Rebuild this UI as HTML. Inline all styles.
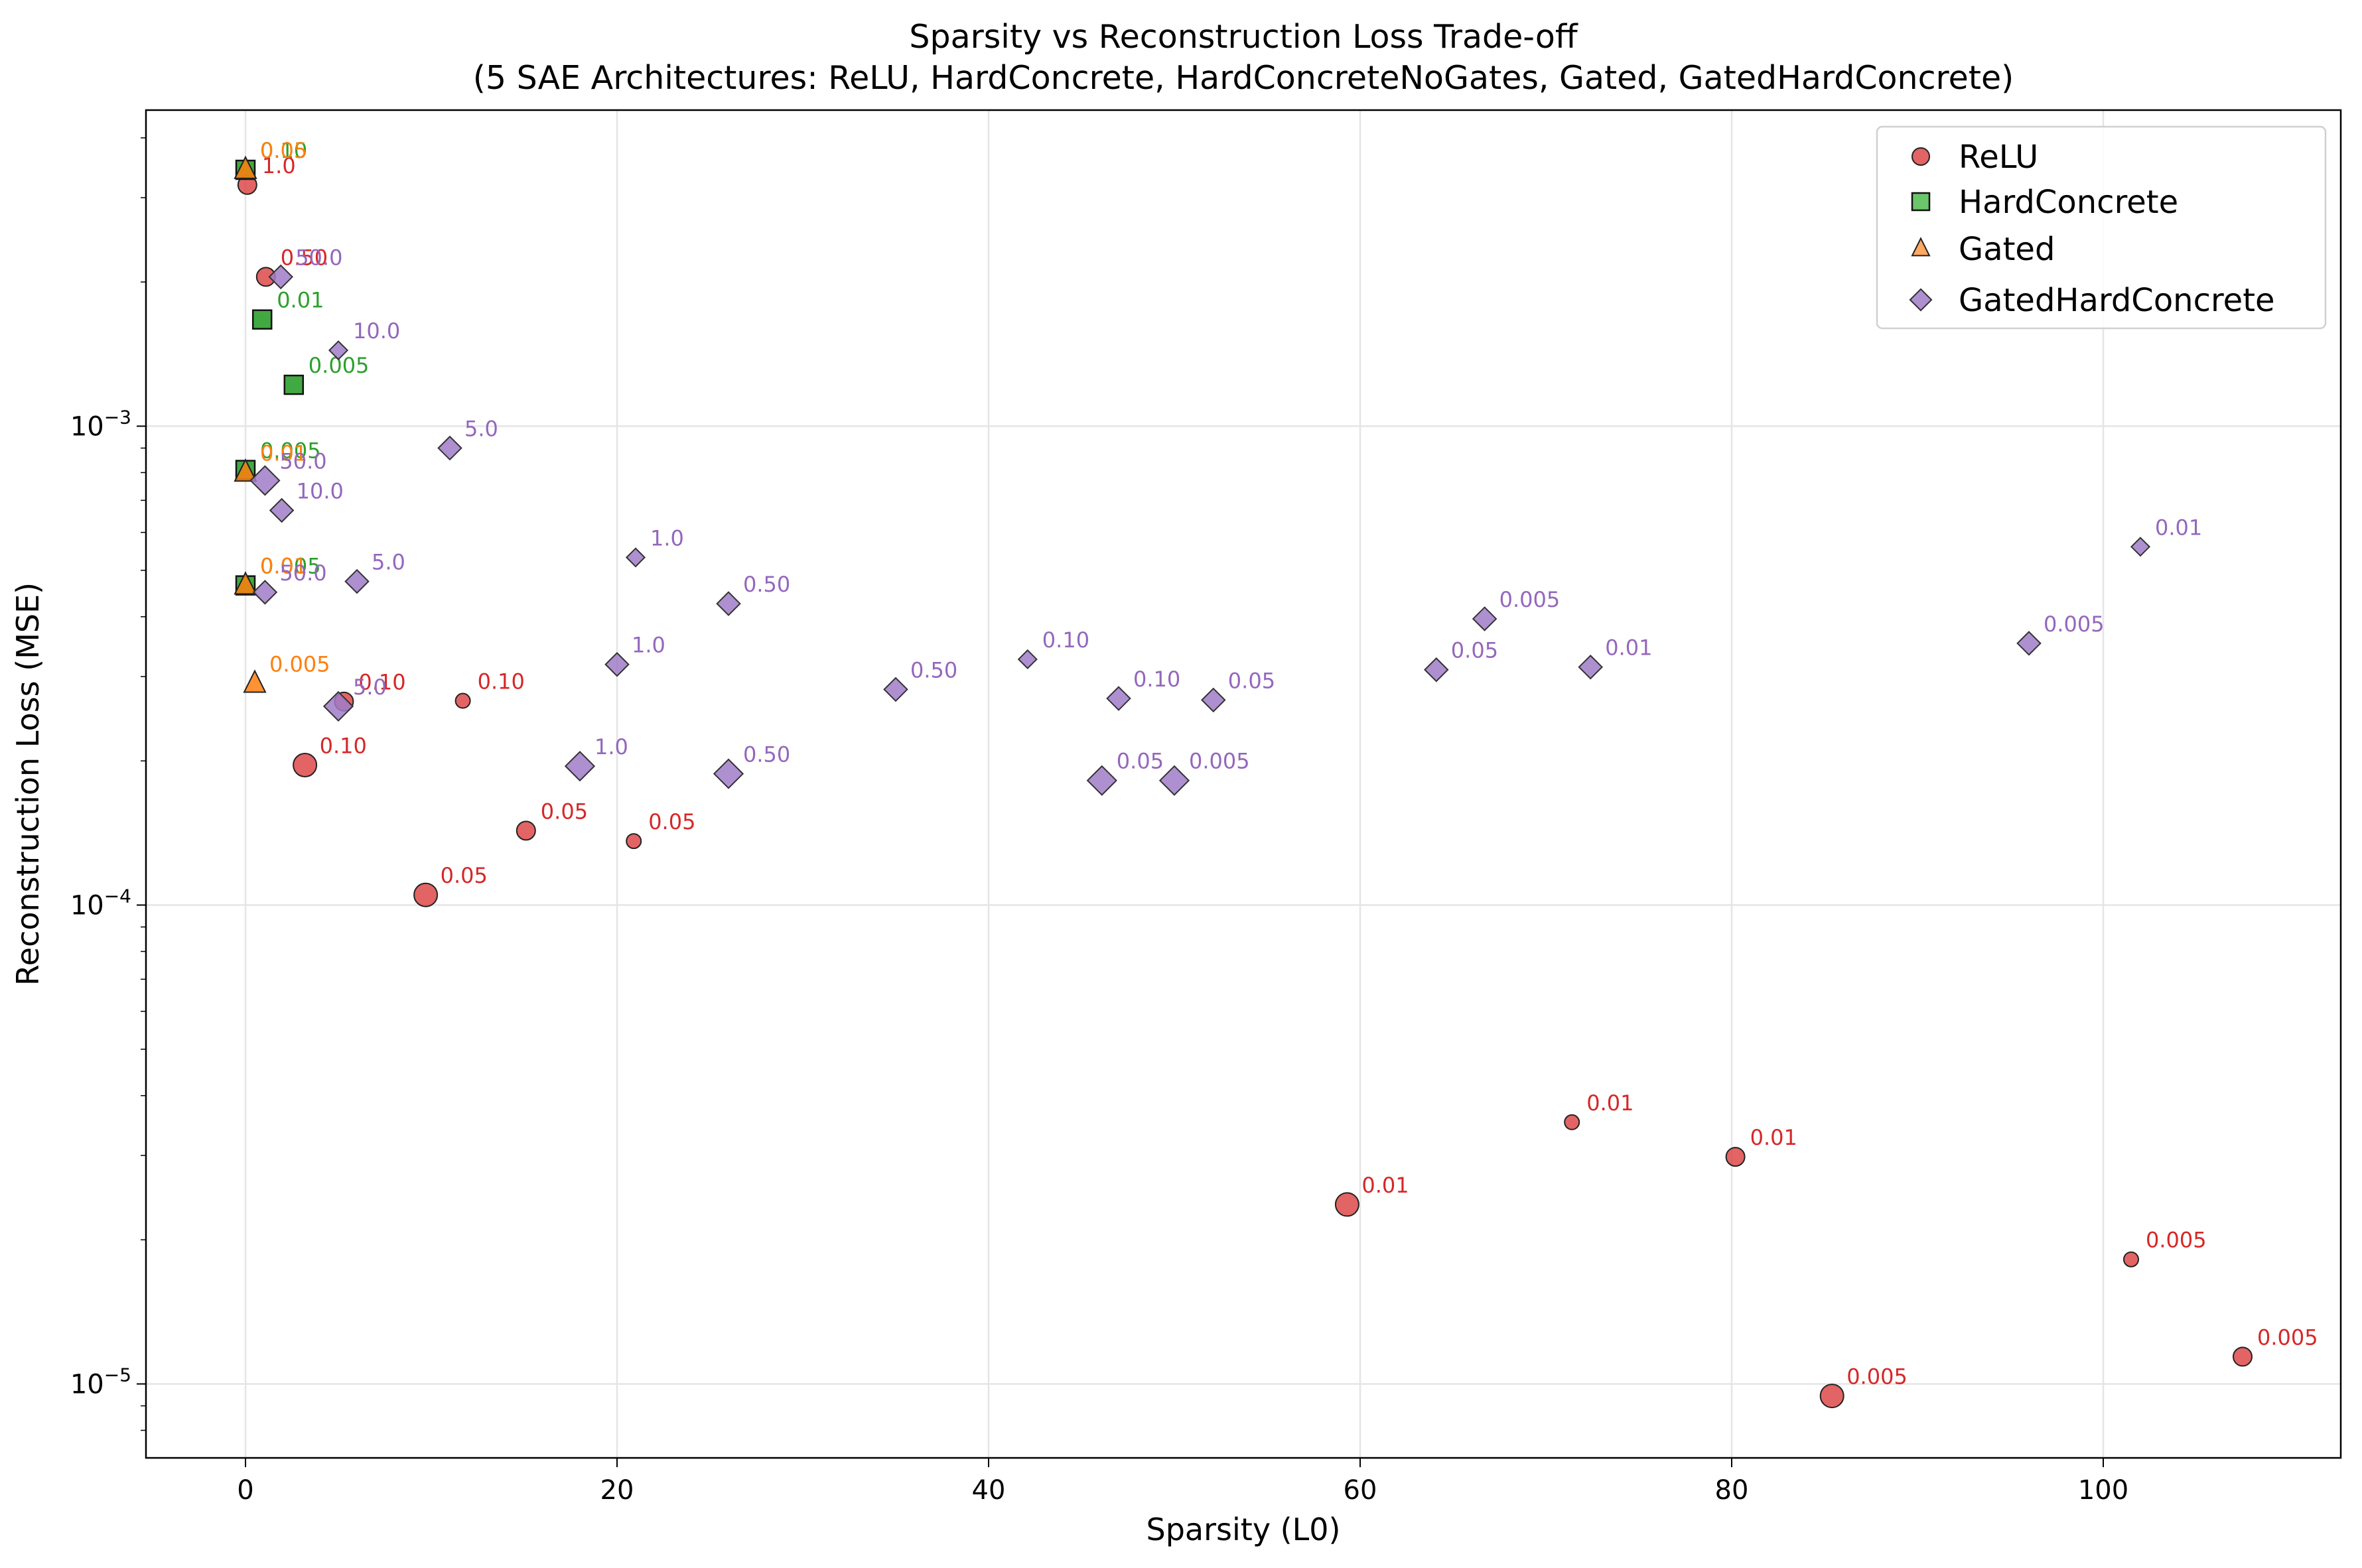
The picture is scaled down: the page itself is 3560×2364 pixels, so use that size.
<!DOCTYPE html>
<html><head><meta charset="utf-8"><style>
html,body{margin:0;padding:0;background:#fff;}
svg{display:block;font-family:"DejaVu Sans","Liberation Sans",sans-serif;}
</style></head><body>
<svg id="chart" width="3560" height="2364" viewBox="0 0 3560 2364" xmlns="http://www.w3.org/2000/svg">
<rect width="3560" height="2364" fill="#fff"/>
<text x="1874" y="72" font-size="49" text-anchor="middle">Sparsity vs Reconstruction Loss Trade-off</text>
<text x="1874" y="134" font-size="49" text-anchor="middle">(5 SAE Architectures: ReLU, HardConcrete, HardConcreteNoGates, Gated, GatedHardConcrete)</text>
<g id="grid"></g><g id="marks"></g><g id="axes"></g><g id="legend"></g>
<text x="1874" y="2322" font-size="46" text-anchor="middle">Sparsity (L0)</text>
<text transform="translate(58,1182) rotate(-90)" font-size="46" text-anchor="middle">Reconstruction Loss (MSE)</text>
</svg>
<script>
const reluX=[0.1,1.1,5.3,11.7,3.2,15.1,9.7,20.9,59.3,71.4,80.2,85.4,101.5,107.5];
const reluY=[3.19e-3,2.05e-3,2.66e-4,2.67e-4,1.96e-4,1.43e-4,1.05e-4,1.36e-4,2.37e-5,3.52e-5,2.98e-5,9.44e-6,1.82e-5,1.14e-5];
const reluLbl=["1.0","0.50","0.10","0.10","0.10","0.05","0.05","0.05","0.01","0.01","0.01","0.005","0.005","0.005"];
const reluBig=[1,1,1,0,2,1,2,0,2,0,1,2,0,1];
const hcX=[0,0.9,2.6,0,0];
const hcY=[3.43e-3,1.67e-3,1.22e-3,8.1e-4,4.65e-4];
const hcLbl=["0.10","0.01","0.005","0.005","0.005"];
const gX=[0,0,0,0.5];
const gY=[3.43e-3,8.0e-4,4.65e-4,2.9e-4];
const gLbl=["0.05","0.01","0.01","0.005"];
const ghcX=[1.9,5.0,11.0,1.05,1.95,6.0,1.05,5.0,21.0,20.0,18.0,26.0,35.0,26.0,42.1,47.0,46.1,52.1,64.1,50.0,66.7,72.4,96.0,102.0];
const ghcY=[2.05e-3,1.44e-3,9.0e-4,7.7e-4,6.67e-4,4.74e-4,4.5e-4,2.6e-4,5.32e-4,3.18e-4,1.95e-4,4.26e-4,2.82e-4,1.88e-4,3.26e-4,2.70e-4,1.82e-4,2.68e-4,3.10e-4,1.82e-4,3.96e-4,3.14e-4,3.52e-4,5.6e-4];
const ghcLbl=["50.0","10.0","5.0","50.0","10.0","5.0","50.0","5.0","1.0","1.0","1.0","0.50","0.50","0.50","0.10","0.10","0.05","0.05","0.05","0.005","0.005","0.01","0.005","0.01"];
const ghcBig=[1,0,1,2,1,1,1,2,0,1,2,1,1,2,0,1,2,1,1,2,1,1,1,0];
const xTicks=[0,20,40,60,80,100];
const yTicks=[-5,-4,-3];

const NS="http://www.w3.org/2000/svg";
const L=220,R=3528,T=166,B=2198;
function xs(v){return 370+v*28.0;}
function ys(v){return 642.5-(Math.log10(v)+3)*722;}
function mk(tag,attrs,parent){const e=document.createElementNS(NS,tag);for(const k in attrs)e.setAttribute(k,attrs[k]);parent.appendChild(e);return e;}
const grid=document.getElementById('grid'),marks=document.getElementById('marks'),axes=document.getElementById('axes'),leg=document.getElementById('legend');
xTicks.forEach(t=>{const x=xs(t);
 const g=mk('line',{x1:x,x2:x,y1:T,y2:B,stroke:'#e5e5e5','stroke-width':2.5},grid);
 
 mk('line',{x1:x,x2:x,y1:B,y2:B+14,stroke:'#000','stroke-width':2},axes);
 const tx=mk('text',{x:x,y:B+62,'font-size':40,'text-anchor':'middle'},axes);tx.textContent=t;
 });
yTicks.forEach(p=>{const y=ys(Math.pow(10,p));
 const g=mk('line',{x1:L,x2:R,y1:y,y2:y,stroke:'#e5e5e5','stroke-width':2.5},grid);
 
 mk('line',{x1:L-14,x2:L,y1:y,y2:y,stroke:'#000','stroke-width':2},axes);
 const tx=mk('text',{x:L-22,y:y+14,'font-size':40,'text-anchor':'end'},axes);
 
 tx.textContent='10';const s=mk('tspan',{dy:-18,'font-size':28},tx);s.textContent='\u2212'+(-p);});
for(let p=-6;p<=-2;p++)for(let m=2;m<=9;m++){const v=m*Math.pow(10,p);const y=ys(v);if(y>T&&y<B)mk('line',{x1:L-8,x2:L,y1:y,y2:y,stroke:'#000','stroke-width':1.5},axes);}
mk('rect',{x:L,y:T,width:R-L,height:B-T,fill:'none',stroke:'#000','stroke-width':2.5},axes);

function marker(shape,cx,cy,sz,fill,parent){
 if(shape==='o')return mk('circle',{cx:cx,cy:cy,r:sz/2,fill:fill,'fill-opacity':0.8,stroke:'#222','stroke-width':2},parent);
 if(shape==='s')return mk('rect',{x:cx-sz/2,y:cy-sz/2,width:sz,height:sz,fill:fill,'fill-opacity':0.9,stroke:'#111','stroke-width':2.5},parent);
 if(shape==='^')return mk('polygon',{points:`${cx},${cy-sz*0.6} ${cx+sz*0.5},${cy+sz*0.4} ${cx-sz*0.5},${cy+sz*0.4}`,fill:fill,'fill-opacity':0.85,stroke:'#222','stroke-width':2},parent);
 const h=sz*0.62;return mk('polygon',{points:`${cx},${cy-h} ${cx+h},${cy} ${cx},${cy+h} ${cx-h},${cy}`,fill:fill,'fill-opacity':0.85,stroke:'#333','stroke-width':2},parent);}
const sizes=[22,28,35];
function series(name,X,Y,Lb,Bg,shape,fill,tcol,defSz){
 X.forEach((xv,i)=>{const cx=xs(xv),cy=ys(Y[i]);const sz=Bg?sizes[Bg[i]]:defSz;
  const m=marker(shape,cx,cy,sz,fill,marks);
  
  const t=mk('text',{x:cx+22,y:cy-18,'font-size':32,fill:tcol},marks);t.textContent=Lb[i];
  });}
series('relu',reluX,reluY,reluLbl,reluBig,'o','#dc3d3d','#d62728',28);
series('hardconcrete',hcX,hcY,hcLbl,null,'s','#2ca02c','#2ca02c',28);
series('gated',gX,gY,gLbl,null,'^','#ff7f0e','#ff7f0e',32);
series('gatedhardconcrete',ghcX,ghcY,ghcLbl,ghcBig,'D','#a07cc8','#9467bd',28);

const lb=mk('rect',{x:2829,y:191,width:676,height:304,rx:8,fill:'#fff','fill-opacity':0.85,stroke:'#d0d0d0','stroke-width':2.5},leg);

const legNames=['ReLU','HardConcrete','Gated','GatedHardConcrete'];
const legShapes=['o','s','^','D'],legFill=['#dc3d3d','#5bbf5b','#ff9a45','#a07cc8'],legY=[236,304,375,452];
legNames.forEach((n,i)=>{const g=mk('g',{},leg);
 
 marker(legShapes[i],2895,legY[i],26,legFill[i],g);
 const t=mk('text',{x:2952,y:legY[i]+17,'font-size':48},g);t.textContent=n;});
</script>
</body></html>
